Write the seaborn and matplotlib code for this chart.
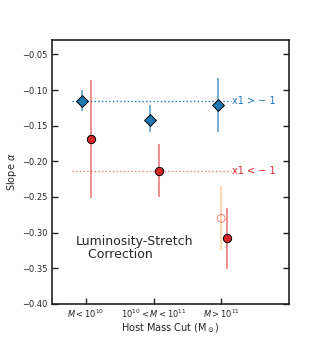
import numpy as np
import pandas as pd
import matplotlib
matplotlib.use("Agg")
import matplotlib.pyplot as plt
import seaborn as sns

# Data
categories = ["$M < 10^{10}$", "$10^{10} < M < 10^{11}$", "$M > 10^{11}$"]
blue_vals = [-0.116, -0.1415, -0.121]
blue_lo = [0.014, 0.018, 0.038]
blue_hi = [0.016, 0.020, 0.038]
red_vals = [-0.169, -0.213, -0.308]
red_lo = [0.083, 0.037, 0.043]
red_hi = [0.083, 0.037, 0.042]
open_val = [-0.280]
open_lo = [0.044]
open_hi = [0.045]
blue_mean = -0.116
red_mean = -0.213

sns.set_style("ticks")
fig, ax = plt.subplots(figsize=(3.21, 3.43), dpi=100)
fig.subplots_adjust(left=0.162, right=0.9, top=0.883, bottom=0.114)

xpos = np.arange(len(categories))
bx = xpos - 0.05
rx = xpos + 0.08

blue = "#1f77b4"
red = "#d62728"

# horizontal mean lines
ax.plot([-0.21, 2.15], [blue_mean, blue_mean], ls=":", color=blue, lw=1.0, zorder=1)
ax.plot([-0.21, 2.15], [red_mean, red_mean], ls=":", color=red, lw=1.0, alpha=0.6, zorder=1)
ax.text(2.16, blue_mean, "x1 > − 1", color=blue, fontsize=7, va="center", ha="left")
ax.text(2.16, red_mean, "x1 < − 1", color=red, fontsize=7, va="center", ha="left")

ax.errorbar(bx, blue_vals, yerr=[blue_lo, blue_hi], fmt="none", ecolor=blue, alpha=0.7, lw=1.2, zorder=2)
ax.errorbar(rx, red_vals, yerr=[red_lo, red_hi], fmt="none", ecolor=red, alpha=0.6, lw=1.2, zorder=2)
ax.errorbar([2.0], open_val, yerr=[open_lo, open_hi], fmt="none", ecolor="#ffcc99", alpha=0.9, lw=1.2, zorder=2)

df_b = pd.DataFrame({"x": bx, "y": blue_vals})
df_r = pd.DataFrame({"x": rx, "y": red_vals})
df_o = pd.DataFrame({"x": [2.0], "y": open_val})
sns.scatterplot(data=df_b, x="x", y="y", marker="D", s=36, color=blue, edgecolor="black", linewidth=0.7, ax=ax, zorder=3)
sns.scatterplot(data=df_r, x="x", y="y", marker="o", s=36, color=red, edgecolor="black", linewidth=0.7, ax=ax, zorder=3)
sns.scatterplot(data=df_o, x="x", y="y", marker="o", s=32, facecolor="none", edgecolor="#f08080", linewidth=0.7, ax=ax, zorder=3)

ax.text(-0.145, -0.321, "Luminosity-Stretch\n   Correction", fontsize=9, ha="left", va="center",
        multialignment="left", linespacing=1.0)

ax.set_xlim(-0.5, 3.0)
ax.set_ylim(-0.40, -0.03)
ax.set_xticks(xpos)
ax.set_xticklabels(categories, fontsize=6)
ax.set_yticks(np.arange(-0.40, -0.049, 0.05))
ax.tick_params(axis="y", labelsize=6, direction="in", right=True, length=4, width=1)
ax.tick_params(axis="x", direction="in", length=4, width=1, pad=3)
ax.set_xlabel("Host Mass Cut (M$_\\odot$)", fontsize=7, labelpad=1)
ax.set_ylabel("Slope $\\alpha$", fontsize=7, labelpad=2)
for sp in ax.spines.values():
    sp.set_linewidth(1.2)
    sp.set_color("#222222")

fig.savefig("out.png", dpi=100)
